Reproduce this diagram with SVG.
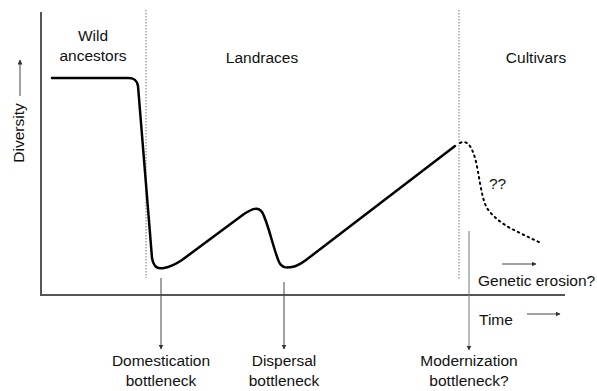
<svg xmlns="http://www.w3.org/2000/svg" width="597" height="391" viewBox="0 0 597 391">
<defs>
<style>
text{font-family:"Liberation Sans",Arial,sans-serif;font-size:15.5px;fill:#111}
.axis{stroke:#555;stroke-width:2;fill:none}
.div{stroke:#777;stroke-width:1;stroke-dasharray:1.5 1.5;fill:none}
.arr{stroke:#444;stroke-width:1;fill:none;marker-end:url(#ah)}
.curve{stroke:#000;stroke-width:2.5;fill:none;stroke-linejoin:round;stroke-linecap:round}
.dots{stroke:#000;stroke-width:2;fill:none;stroke-dasharray:1.5 4;stroke-linecap:round}
</style>
<marker id="ah" viewBox="0 0 10 10" refX="9" refY="5" markerWidth="5" markerHeight="5" orient="auto" markerUnits="userSpaceOnUse"><path d="M0,0L10,5L0,10z" fill="#333"/></marker>
</defs>
<g id="axes">
<line class="axis" x1="41" y1="12" x2="41" y2="295"/>
<line class="axis" x1="40" y1="295" x2="565" y2="295"/>
<line class="div" x1="146" y1="10" x2="146" y2="278"/>
<line class="div" x1="459" y1="10" x2="459" y2="280"/>
</g>
<g id="labels">
<text x="93" y="41" text-anchor="middle">Wild</text>
<text x="93" y="61" text-anchor="middle">ancestors</text>
<text x="262" y="63" text-anchor="middle">Landraces</text>
<text x="536" y="63" text-anchor="middle">Cultivars</text>
<text x="24" y="133" text-anchor="middle" transform="rotate(-90 24 133)">Diversity</text>
<text x="489" y="189">??</text>
<text x="478" y="286">Genetic erosion?</text>
<text x="479" y="325">Time</text>
</g>
<g id="curve">
<path class="curve" d="M52,78 L128,78 C134,78 137,80 138,86 L152,258 C154,268 158,269 164,268 C170,267 176,264 182,260 L244,214 C252,209 258,206 262,212 C268,222 273,248 279,262 C282,268 286,268 292,267 C298,266 302,263 306,260 L455,146"/>
<path class="dots" d="M460,143 C466,140 471,144 475,158 C479,172 481,198 487,208 C492,216 500,222 510,228 C520,233 530,238 541,243"/>
</g>
<g id="connectors">
<line class="arr" x1="161" y1="278" x2="161" y2="349"/>
<line class="arr" x1="284" y1="282" x2="284" y2="349"/>
<line class="arr" style="stroke:#777" x1="469" y1="231" x2="469" y2="350"/>
<line class="arr" x1="502" y1="264" x2="536" y2="264"/>
<line class="arr" x1="527" y1="314" x2="560" y2="314"/>
<line class="arr" x1="20" y1="96" x2="20" y2="60"/>
</g>
<g id="bottom">
<text x="161" y="366" text-anchor="middle">Domestication</text>
<text x="161" y="386" text-anchor="middle">bottleneck</text>
<text x="284" y="366" text-anchor="middle">Dispersal</text>
<text x="284" y="386" text-anchor="middle">bottleneck</text>
<text x="469" y="366" text-anchor="middle">Modernization</text>
<text x="469" y="386" text-anchor="middle">bottleneck?</text>
</g>
</svg>
